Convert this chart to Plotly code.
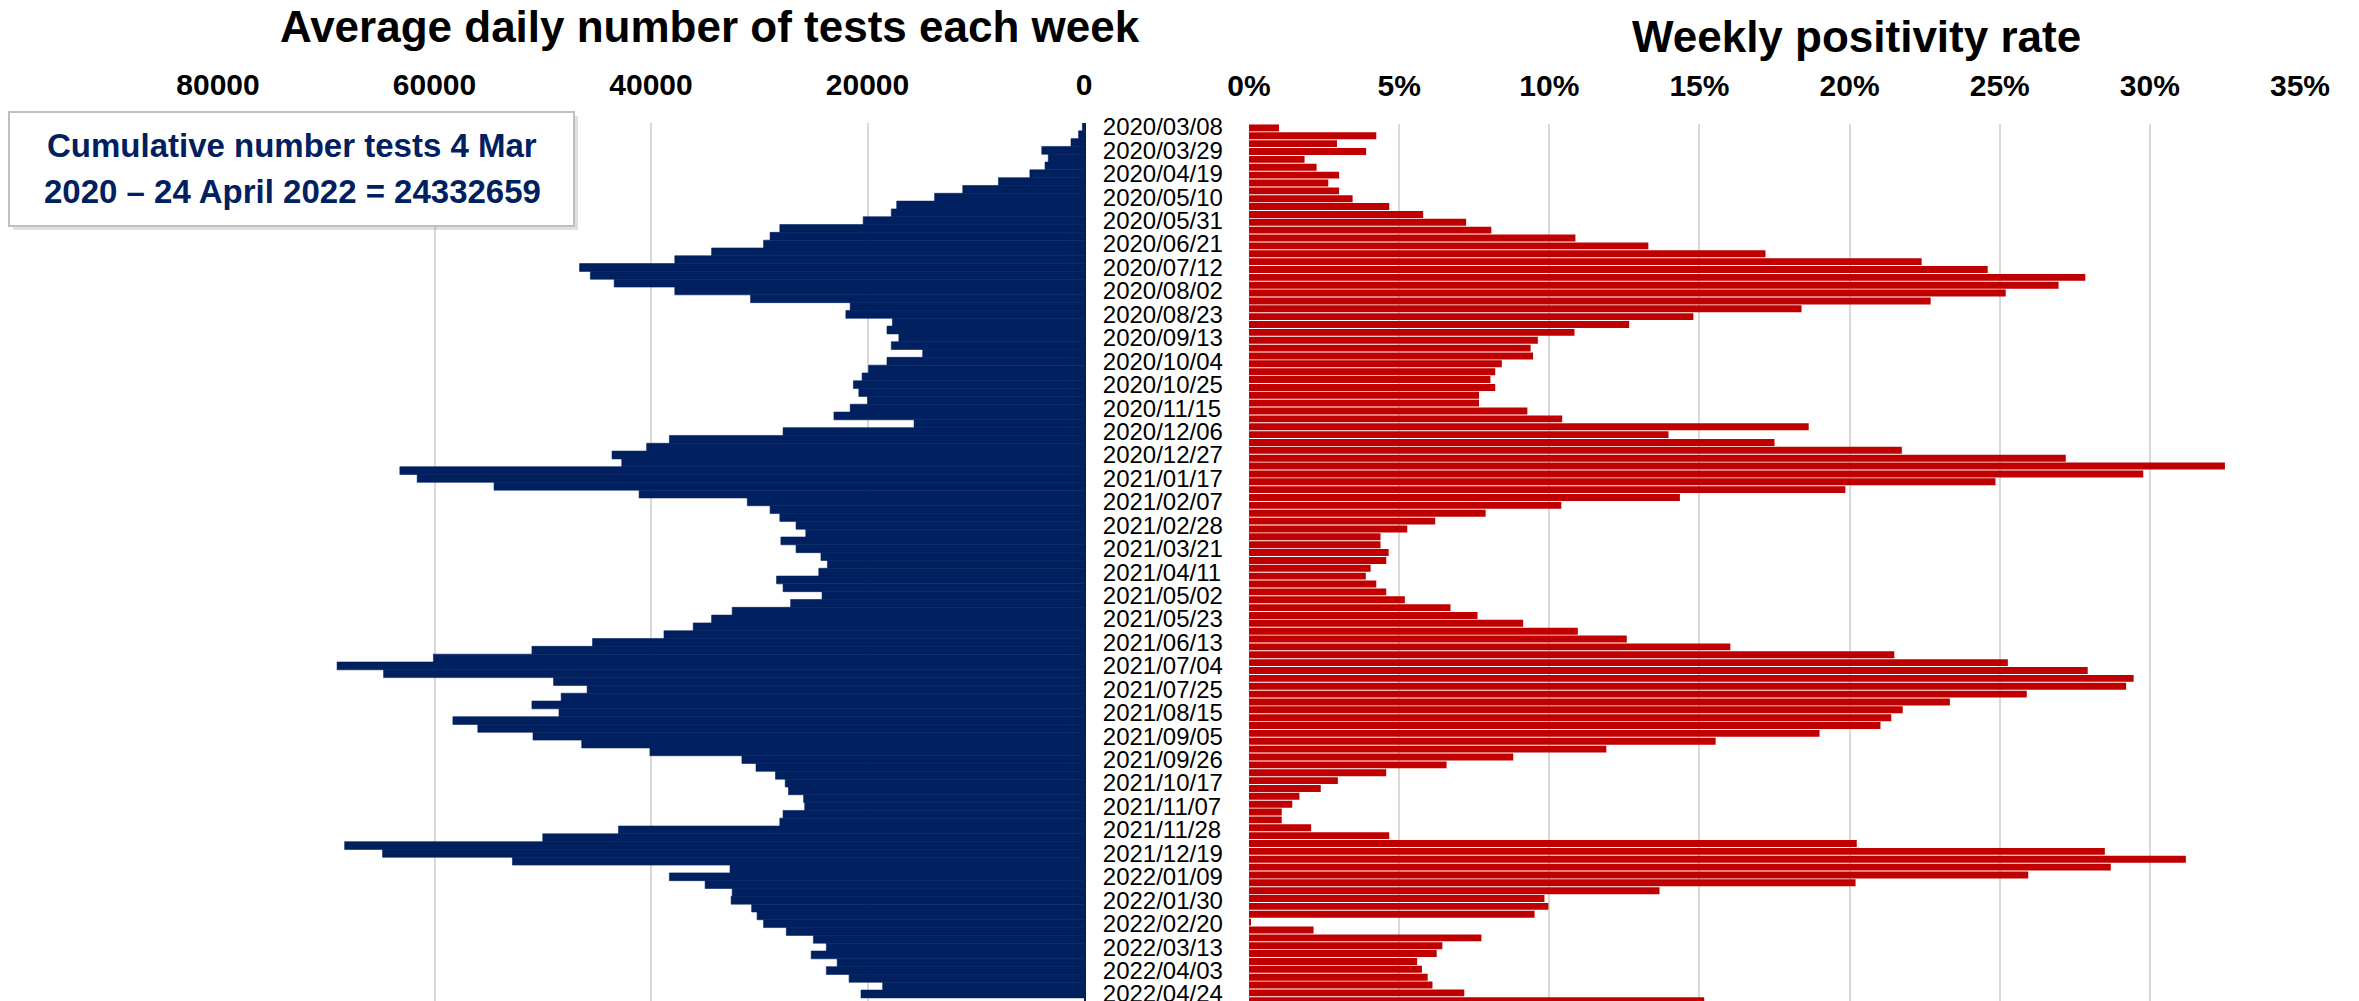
"""Weekly testing chart: average daily tests (left) vs. weekly positivity rate (right)."""

import pandas as pd
import plotly.graph_objects as go

W, H = 2359, 1001
NAVY = "#002060"
RED = "#C00000"
GRID = "#D9D9D9"
FONT = "Liberation Sans, Arial, sans-serif"

# one bar per week, labelled by the week's Sunday
WEEKS = [d.strftime("%Y/%m/%d") for d in pd.date_range("2020-03-08", "2022-04-24", freq="7D")]

# average daily number of tests each week
DAILY_TESTS = [
    150, 500, 1200, 3900, 3300, 3600, 5000, 7900, 11200, 13800,
    17300, 17800, 20400, 28100, 29000, 29600, 34400, 37800, 46600, 45600,
    43400, 37800, 30800, 21600, 22000, 17700, 18200, 17100, 17800, 14900,
    18200, 19900, 20500, 21300, 20800, 20000, 21600, 23100, 15700, 27800,
    38300, 40400, 43600, 42700, 63200, 61600, 54500, 41100, 31100, 29000,
    28100, 26600, 25700, 28000, 26600, 24300, 23700, 24500, 28400, 27800,
    24200, 27100, 32500, 34400, 36100, 38800, 45400, 51000, 60100, 69000,
    64700, 49000, 45900, 48300, 51000, 48500, 58300, 56000, 50900, 46400,
    40100, 31600, 30300, 28500, 27600, 27300, 25900, 25800, 27800, 28100,
    43000, 50000, 68300, 64800, 52800, 32700, 38300, 35000, 32500, 32600,
    30700, 30200, 29600, 27500, 25000, 23800, 25200, 22800, 23800, 21700,
    18600, 20600,
]

# weekly positivity rate, percent
POSITIVITY_PCT = [
    1.0, 4.24, 2.93, 3.9, 1.85, 2.25, 3.0, 2.64, 3.0, 3.45,
    4.67, 5.8, 7.23, 8.07, 10.87, 13.3, 17.2, 22.4, 24.6, 27.85,
    26.96, 25.2, 22.7, 18.4, 14.8, 12.66, 10.84, 9.62, 9.38, 9.46,
    8.42, 8.2, 8.04, 8.2, 7.66, 7.66, 9.27, 10.43, 18.64, 13.97,
    17.5, 21.74, 27.2, 32.5, 29.78, 24.86, 19.86, 14.35, 10.4, 7.88,
    6.2, 5.27, 4.38, 4.38, 4.65, 4.57, 4.05, 3.89, 4.24, 4.57,
    5.19, 6.71, 7.61, 9.13, 10.95, 12.58, 16.03, 21.49, 25.27, 27.93,
    29.46, 29.21, 25.9, 23.34, 21.77, 21.39, 21.03, 19.0, 15.54, 11.9,
    8.8, 6.58, 4.57, 2.96, 2.39, 1.68, 1.44, 1.09, 1.09, 2.07,
    4.67, 20.24, 28.5, 31.2, 28.7, 25.95, 20.2, 13.67, 9.84, 9.97,
    9.51, 0.05, 2.15, 7.74, 6.44, 6.25, 5.6, 5.76, 5.95, 6.11,
    7.17, 15.16,
]

TEST_TICKS = [80000, 60000, 40000, 20000, 0]
RATE_TICKS = [0, 0.05, 0.10, 0.15, 0.20, 0.25, 0.30, 0.35]
DATE_LABELS = WEEKS[::3]

CUMULATIVE_TEXT = ["Cumulative number tests 4 Mar", "2020 \u2013 24 April 2022 = 24332659"]


def px_x(x):
    return x / W


def px_y(y):
    return 1 - y / H


fig = go.Figure()

# left half: tests, growing leftwards
fig.add_trace(
    go.Bar(
        y=WEEKS,
        x=DAILY_TESTS,
        orientation="h",
        width=1.0,
        marker=dict(color=NAVY, line=dict(color=NAVY, width=0.6)),
        xaxis="x",
        yaxis="y",
        showlegend=False,
    )
)

# right half: positivity
fig.add_trace(
    go.Bar(
        y=WEEKS,
        x=[v / 100 for v in POSITIVITY_PCT],
        orientation="h",
        width=0.88,
        marker=dict(color=RED, line=dict(width=0)),
        xaxis="x2",
        yaxis="y2",
        showlegend=False,
    )
)

tick_font = dict(family=FONT, size=30, color="black", weight="bold")

fig.update_layout(
    width=W,
    height=H,
    margin=dict(l=0, r=0, t=0, b=0, autoexpand=False),
    paper_bgcolor="white",
    plot_bgcolor="white",
    font=dict(family=FONT, color="black"),
    xaxis=dict(
        domain=[px_x(218), px_x(1084)],
        range=[80000, 0],
        side="top",
        tickvals=TEST_TICKS,
        tickformat="d",
        tickfont=tick_font,
        ticklabelstandoff=21,
        showgrid=True,
        gridcolor=GRID,
        gridwidth=2,
        zeroline=False,
        automargin=False,
        anchor="y",
    ),
    yaxis=dict(
        domain=[0, px_y(123)],
        type="category",
        categoryorder="array",
        categoryarray=WEEKS,
        range=[111.9, -0.5],
        side="right",
        anchor="x",
        tickvals=DATE_LABELS,
        ticktext=DATE_LABELS,
        tickfont=dict(family=FONT, size=24, color="black"),
        ticks="",
        ticklabelstandoff=12,
        showline=True,
        linecolor=NAVY,
        linewidth=2,
        showgrid=False,
        zeroline=False,
        automargin=False,
    ),
    xaxis2=dict(
        domain=[px_x(1249), px_x(2300)],
        range=[0, 0.35],
        side="top",
        tickvals=RATE_TICKS,
        tickformat=".0%",
        tickfont=tick_font,
        ticklabelstandoff=21,
        showgrid=True,
        gridcolor=GRID,
        gridwidth=2,
        zeroline=False,
        automargin=False,
        anchor="y2",
    ),
    yaxis2=dict(
        domain=[0, px_y(124)],
        type="category",
        categoryorder="array",
        categoryarray=WEEKS,
        range=[111.03, -0.5],
        anchor="x2",
        showticklabels=False,
        showgrid=False,
        zeroline=False,
        showline=False,
        automargin=False,
    ),
)

title_font = dict(family=FONT, size=44, color="black", weight="bold")
fig.add_annotation(
    text="Average daily number of tests each week",
    x=px_x(710), y=px_y(26), xref="paper", yref="paper",
    xanchor="center", yanchor="middle", showarrow=False, font=title_font,
)
fig.add_annotation(
    text="Weekly positivity rate",
    x=px_x(1856), y=px_y(37), xref="paper", yref="paper",
    xanchor="center", yanchor="middle", showarrow=False, font=title_font,
)

# cumulative total box, with a soft shadow
fig.add_shape(
    type="rect", xref="paper", yref="paper",
    x0=px_x(13), x1=px_x(578), y0=px_y(230), y1=px_y(116),
    fillcolor="rgba(0,0,0,0.12)", line=dict(width=0), layer="above",
)
fig.add_shape(
    type="rect", xref="paper", yref="paper",
    x0=px_x(9), x1=px_x(574), y0=px_y(226), y1=px_y(112),
    fillcolor="white", line=dict(color="#BFBFBF", width=2), layer="above",
)
box_font = dict(family=FONT, size=33, color=NAVY, weight="bold")
for line, y in zip(CUMULATIVE_TEXT, [146, 192]):
    fig.add_annotation(
        text=line, x=px_x(292), y=px_y(y), xref="paper", yref="paper",
        xanchor="center", yanchor="middle", showarrow=False, font=box_font,
    )

# drop the browser's default page margin so the figure sits at the top-left corner
fig.write_html(
    "out.html",
    config={"displayModeBar": False},
    post_script="document.body.style.margin = '0px';",
)
